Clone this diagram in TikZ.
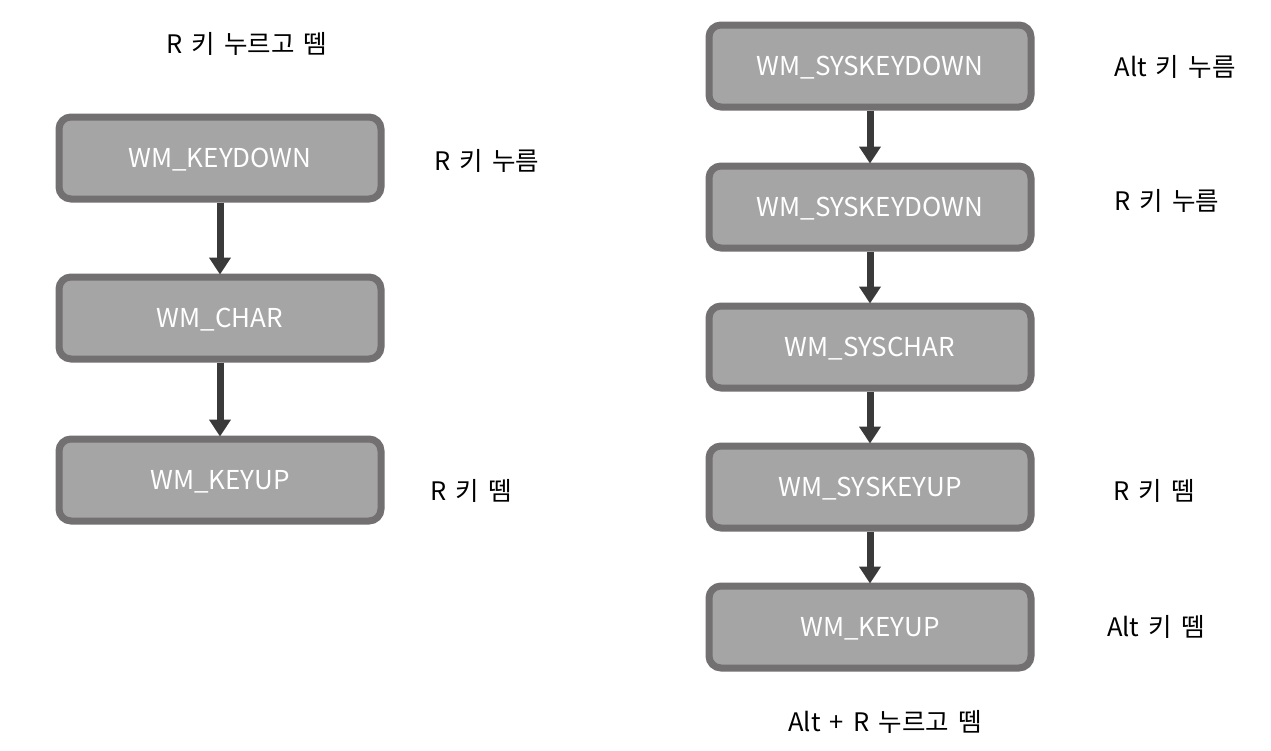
\documentclass[tikz,border=0pt]{standalone}
\usepackage{fontspec}
\setmainfont[WordSpace=1.6]{Noto Sans CJK KR}
\usetikzlibrary{arrows.meta}
\definecolor{boxfill}{HTML}{A5A5A5}
\definecolor{boxline}{HTML}{727070}
\definecolor{arrowc}{HTML}{3A3A3A}
\tikzset{
  msgbox/.style={draw=boxline, line width=7pt, fill=boxfill, rounded corners=12pt,
    minimum width=322pt, minimum height=82pt, text=white, font=\fontsize{26}{30}\selectfont,
    inner sep=0pt, text height=19pt, text depth=0pt},
  lbl/.style={text=black, font=\fontsize{25.5}{30}\selectfont, inner sep=0pt, text height=19pt, text depth=0pt},
  flow/.style={draw=arrowc, line width=7pt, -{Triangle[width=21pt,length=17pt]}, shorten >=-1pt}
}
\begin{document}
\begin{tikzpicture}[x=1pt,y=-1pt]
\useasboundingbox (0,0) rectangle (1271,750);
% left column
\node[msgbox] (k1) at (220,158) {WM\_KEYDOWN};
\node[msgbox] (k2) at (220,318) {WM\_CHAR};
\node[msgbox] (k3) at (220,480) {WM\_KEYUP};
\draw[flow] (k1.south) -- (k2.north);
\draw[flow] (k2.south) -- (k3.north);
\node[lbl] (t1) at (247,44) {R 키 누르고 뗌};
\node[lbl] (l1) at (487,161) {R 키 누름};
\node[lbl] (l3) at (471,491) {R 키 뗌};
% right column
\node[msgbox] (s1) at (870,66) {WM\_SYSKEYDOWN};
\node[msgbox] (s2) at (870,207) {WM\_SYSKEYDOWN};
\node[msgbox] (s3) at (870,347) {WM\_SYSCHAR};
\node[msgbox] (s4) at (870,487) {WM\_SYSKEYUP};
\node[msgbox] (s5) at (870,627) {WM\_KEYUP};
\draw[flow] (s1.south) -- (s2.north);
\draw[flow] (s2.south) -- (s3.north);
\draw[flow] (s3.south) -- (s4.north);
\draw[flow] (s4.south) -- (s5.north);
\node[lbl] (r1) at (1175,67) {Alt 키 누름};
\node[lbl] (r2) at (1167,201) {R 키 누름};
\node[lbl] (r4) at (1154,491) {R 키 뗌};
\node[lbl] (r5) at (1156,627) {Alt 키 뗌};
\node[lbl] (t2) at (885,722) {Alt + R 누르고 뗌};
\end{tikzpicture}
\end{document}
